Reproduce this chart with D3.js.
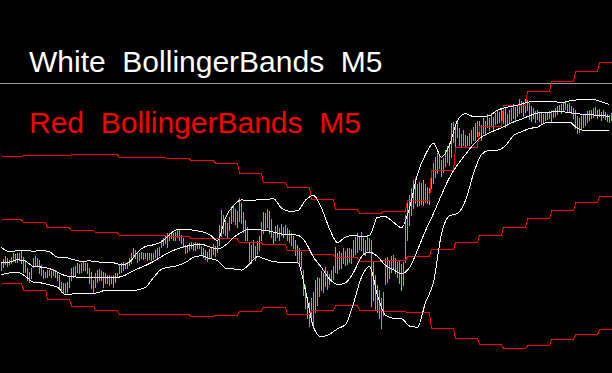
<!DOCTYPE html>
<html>
<head>
<meta charset="utf-8">
<script src="https://d3js.org/d3.v7.min.js"></script>
<style>
  html, body { margin: 0; padding: 0; background: #000; }
  svg { display: block; }
</style>
</head>
<body>
<svg width="612" height="373"></svg>
<script>
// prices in points, one bar every 2px
const barHigh = [
  238,241,244,242,240,243,247,246,247,247, 249,243,240,232,228,232,242,244,242,240,
  235,230,228,230,230,229,231,230,227,225, 218,217,217,218,223,232,233,234,237,236,
  237,238,237,237,232,228,220,227,230,231, 229,228,227,225,225,224,225,227,227,235,
  237,238,237,238,242,247,252,250,248,247, 248,247,247,247,247,247,247,250,252,253,
  260,262,265,267,267,268,267,268,271,270, 265,262,255,255,257,258,257,258,257,257,
  254,252,250,248,251,253,256,254,260,275, 290,285,280,277,283,292,295,291,289,302,
  297,288,280,273,257,255,260,254,259,264, 278,288,287,291,289,281,268,274,275,272,
  276,273,275,272,270,267,264,260,255,252, 248,230,215,202,198,202,208,220,223,222,
  229,227,233,229,226,230,234,253,247,249, 247,252,249,252,252,251,260,263,267,264,
  268,262,260,264,262,260,238,225,215,210, 202,208,242,243,240,244,245,242,238,240,
  236,238,285,300,305,312,320,322,316,318, 317,320,316,313,312,330,337,343,347,345,
  340,342,350,354,355,377,378,374,379,372, 366,370,365,364,367,370,373,377,379,379,
  375,382,379,386,382,387,383,387,390,388, 391,393,392,386,390,392,396,393,394,401,
  399,398,401,400,397,394,392,389,390,387, 387,386,388,387,389,388,390,392,394,395,
  396,397,398,396,397,394,392,390,384,382, 384,386,385,389,390,390,392,393,390,391,
  388,390,388,386,385,387
];
const barLow = [
  230,233,236,234,236,237,239,238,238,240, 237,228,228,220,218,222,233,235,234,227,
  225,222,223,223,225,223,225,223,220,213, 208,207,206,208,213,220,223,225,228,227,
  228,230,230,227,217,212,207,213,218,220, 220,213,217,217,215,217,213,218,223,227,
  228,230,232,232,235,237,243,242,238,240, 242,241,242,240,241,240,241,243,242,245,
  253,255,257,253,260,262,260,260,263,260, 257,253,247,248,250,252,250,250,252,252,
  245,243,241,239,242,243,246,244,248,255, 264,267,265,263,270,277,279,276,273,279,
  277,268,260,260,239,237,243,240,246,250, 260,267,270,273,267,263,257,260,263,260,
  265,263,266,260,258,255,252,245,238,235, 232,205,192,182,174,178,172,188,195,204,
  210,208,214,211,216,219,221,228,227,231, 232,237,235,236,238,237,244,246,248,251,
  250,247,245,250,248,194,200,190,188,182, 172,185,216,218,222,228,232,227,223,217,
  210,215,238,260,275,285,292,297,294,295, 296,295,298,297,296,312,317,323,327,332,
  324,328,334,338,335,343,358,350,363,355, 353,355,353,355,355,357,360,360,364,365,
  360,367,365,373,370,375,371,376,377,378, 376,377,373,375,378,380,382,380,384,387,
  388,384,388,390,381,379,382,378,381,379, 377,378,380,381,382,379,383,384,386,389,
  387,390,391,389,388,387,382,372,367,368, 371,373,375,378,380,382,383,385,382,384,
  380,383,381,379,378,380
];

// white bands (M5), one value every 4 bars
const bandStep = 4;
const whiteUpper = [
  253,249,249.7,249.7,249.4,249.9,248.6,243.3,243,240.8,
  239.2,239.6,238.6,238,237.7,235.5,238.4,248.3,254.1,255.7,
  258.6,266,270.9,271.1,270.2,268.8,266,260,282.7,295,
  300.6,299.7,300.7,301,301.7,292.4,289.2,289.7,300.4,305,
  292.4,271.7,258,263.4,265,264,265,283.3,283.7,278.3,
  272.8,292.4,326,346,357.2,343.3,355.6,380,386.8,384,
  384,384.9,390.3,393,394.6,396.3,398.6,399.3,399.3,399.1,
  397.8,399.6,400.7,401.4,401,398.7,396
];
const whiteMiddle = [
  238.1,238.3,240.7,239.3,234,233.4,231.9,228.2,224.8,223.7,
  223.2,222.8,222.7,222.7,222.9,223.8,227.7,231.6,235,239,
  243.9,248.3,251.7,254.1,255.4,256.2,253.6,251.4,255.4,263,
  268.3,271.1,270.7,270.1,268.4,266.6,265.9,265.3,258.3,243.3,
  233,221.5,216,217.7,228.1,243.7,248.5,244,235.1,230.6,
  227,232.8,250.4,269.8,287,305.6,322.9,335.7,346.1,356,
  363.5,367.9,371,374.7,378.5,381.4,384.7,387.4,388.2,388.6,
  388.8,387.8,386.7,386.1,385.5,384.8,384.3
];
const whiteLower = [
  225.9,227.5,228.3,224.1,218.3,217.5,215.6,213.3,206,206.6,
  207.4,206.8,207.8,210.2,210.4,209.8,209.7,210.6,213.3,222.9,
  231.3,233.4,234.9,238,243.3,244.7,242,240,232.4,231.5,
  230.5,236.5,243.9,241.3,239,238.3,238.3,238.3,210,173.3,
  163.6,166.3,171.7,176,197.3,223.3,234,205,185.2,182.2,
  181.8,174.5,173.3,198,218.3,266.7,284.7,287,300,326.7,
  346.1,350.1,350.3,355,365,368.8,372,373.3,377.7,377.9,
  378,378.3,372,370,370,370,370.5
];

// red bands (higher timeframe), one value per step
const firstStepBars = 11;
const barsPerStep = 12;
const redUpper = [344,344.7,344.7,345.7,345.7,343,343,341.7,339.7,337.3,326.7,317.7,313,
  301,290.7,287.3,289.3,300,330,352.7,374,394.7,409.3,419,429,437.7];
const redMiddle = [280.7,278,272.7,270,267.7,264.7,264.7,263.7,261.7,261.7,257.7,255.7,250,
  245.7,242.7,239.3,240,244,250.7,257.7,265,273,281.7,289.7,297.7,304];
const redLower = [217,210.5,201.5,194.5,189.7,186.4,186.4,185.7,183.7,185.5,189.5,193,186,
  190,194.7,190,188.7,187.7,171.7,162,155.7,152,154.7,161,165.7,171];

const levelPrice = 417;
const titles = ["White  BollingerBands  M5", "Red  BollingerBands  M5"];
const titleColors = ["#ffffff", "#ff0000"];

const svg = d3.select('svg');
const width = +svg.attr('width');
const height = +svg.attr('height');

svg.append('rect').attr('width', width).attr('height', height).attr('fill', '#000');

const x = d3.scaleLinear().domain([0, barHigh.length - 1]).range([1.5, 611.5]);
const y = d3.scaleLinear().domain([500, 127]).range([0.5, 373.5]);

// horizontal level
svg.append('line')
    .attr('x1', 0).attr('x2', width)
    .attr('y1', y(levelPrice)).attr('y2', y(levelPrice))
    .attr('stroke', '#a0a0a8')
    .attr('shape-rendering', 'crispEdges');

// price bars
svg.append('g').selectAll('line.bar').data(barHigh)
    .join('line')
    .attr('class', 'bar')
    .attr('x1', (d, i) => x(i)).attr('x2', (d, i) => x(i))
    .attr('y1', d => y(d) - 0.5)
    .attr('y2', (d, i) => y(barLow[i]) + 0.5)
    .attr('stroke', '#32e632')
    .attr('shape-rendering', 'crispEdges');

// red stepped bands
const stepOf = i => i < firstStepBars ? 0 : Math.floor((i - firstStepBars) / barsPerStep) + 1;
const bars = d3.range(barHigh.length);
[redUpper, redMiddle, redLower].forEach(arr => {
    const line = d3.line().x(i => x(i)).y(i => y(arr[stepOf(i)]));
    svg.append('path')
        .attr('d', line(bars))
        .attr('fill', 'none')
        .attr('stroke', '#ff0000')
        .attr('stroke-width', 1)
        .attr('shape-rendering', 'crispEdges');
});

// white bands
[whiteUpper, whiteMiddle, whiteLower].forEach(arr => {
    const line = d3.line()
        .x((d, k) => x(k * bandStep))
        .y(d => y(d))
        .curve(d3.curveMonotoneX);
    svg.append('path')
        .attr('d', line(arr))
        .attr('fill', 'none')
        .attr('stroke', '#ffffff')
        .attr('stroke-width', 1)
        .attr('shape-rendering', 'crispEdges');
});

// labels
svg.selectAll('text.title').data(titles)
    .join('text')
    .attr('class', 'title')
    .attr('x', 29)
    .attr('y', (d, i) => i === 0 ? 72 : 133)
    .attr('fill', (d, i) => titleColors[i])
    .style('font-family', '"Liberation Sans", Arial, sans-serif')
    .style('font-size', '30px')
    .style('white-space', 'pre')
    .text(d => d);
</script>
</body>
</html>
